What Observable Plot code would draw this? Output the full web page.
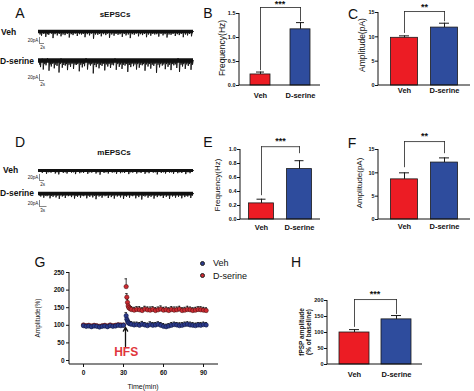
<!DOCTYPE html>
<html><head><meta charset="utf-8">
<script src="https://cdn.jsdelivr.net/npm/d3@7"></script>
<script src="https://cdn.jsdelivr.net/npm/@observablehq/plot@0.6"></script>
<style>
html,body{margin:0;padding:0;background:#fff;}
#fig{position:relative;width:474px;height:391px;overflow:hidden;font-family:'Liberation Sans',Arial,sans-serif;color:#111;background:#fff;}
.t{position:absolute;white-space:nowrap;line-height:1;}
.pl{position:absolute;}
</style></head><body><div id="fig"></div>
<script>
// ---------- data ----------
const cats = ["Veh", "D-serine"];
const barColors = ["#ec1c24", "#2e4c9d"];

// B: sEPSC frequency (Hz)
const sFreq = [0.23, 1.17];
const sFreqErr = [0.05, 0.14];
// C: sEPSC amplitude (pA)
const sAmp = [9.8, 11.9];
const sAmpErr = [0.4, 0.9];
// E: mEPSC frequency (Hz)
const mFreq = [0.23, 0.72];
const mFreqErr = [0.06, 0.12];
// F: mEPSC amplitude (pA)
const mAmp = [8.6, 12.2];
const mAmpErr = [1.4, 1.0];
// H: fPSP amplitude (% of baseline)
const fpsp = [100, 141];
const fpspErr = [9, 12];

// G: time course
const timeG = [0,2,4,6,8,10,12,14,16,18,20,22,24,26,28,30,
  32,32.5,33,33.5,34,35,36,38,40,42,44,46,48,50,52,54,56,58,60,62,64,66,68,70,72,74,76,78,80,82,84,86,88,90,92];
const vehG = [99,97,98,96,98,97,95,97,98,96,99,97,98,100,99,100,
  127,117,112,108,106,104,103,101,102,100,103,101,99,102,100,101,103,100,97,96,98,100,102,101,99,100,102,103,101,100,99,101,100,102,101];
const vehGErr = [3,3,3,3,3,3,3,3,3,3,3,3,3,3,3,3,
  9,8,7,7,7,7,7,8,7,8,8,7,7,8,8,7,7,8,8,7,7,8,7,7,8,8,7,7,8,8,7,7,8,7,7];
const dserG = [101,99,100,98,100,99,97,99,100,98,101,99,100,102,101,101,
  210,180,165,155,150,147,145,143,145,144,142,146,144,143,145,142,144,146,143,144,142,145,143,144,146,142,143,145,144,142,143,145,144,143,142];
const dserGErr = [3,3,3,3,3,3,3,3,3,3,3,3,3,3,3,3,
  22,10,9,9,8,8,8,8,8,9,8,8,8,9,8,8,8,9,8,8,8,8,9,8,8,8,8,9,8,8,8,8,9,8,8];
const hfsTime = 31.5;

// Representative traces (estimated event times in s and amplitudes in pA)
const sVehEvents = [[0.6,-10],[1.2,-14],[2.1,-8],[2.9,-18],[3.6,-9],[4.1,-11],[5.2,-7],[5.8,-22],[6.6,-9],[7.5,-13],[8.3,-8],[9.0,-16],[9.8,-10],[10.6,-12],[11.5,-8],[12.3,-20],[13.1,-9],[13.8,-12],[14.7,-7],[15.5,-15],[16.4,-9],[17.2,-10],[17.9,-8],[18.6,-19],[19.5,-9],[20.4,-13],[21.2,-7],[22.0,-24],[22.8,-10],[23.7,-11],[24.4,-8],[25.1,-16],[26.0,-9],[26.9,-12],[27.6,-7],[28.4,-21],[29.3,-10],[30.2,-14],[31.0,-8],[31.8,-11],[32.6,-9],[33.5,-18],[34.3,-8],[35.0,-13],[35.9,-10],[36.7,-22],[37.5,-9],[38.3,-11],[39.1,-7],[40.0,-16],[40.8,-9],[41.6,-12],[42.4,-8],[43.2,-19],[44.0,-10],[44.9,-14],[45.7,-8],[46.5,-10],[47.3,-9],[48.1,-17],[49.0,-8],[49.8,-13],[50.6,-9],[51.4,-20],[52.2,-10],[53.0,-11],[53.8,-8],[54.7,-15],[55.5,-9],[56.3,-12],[57.1,-8],[57.9,-19],[58.8,-10],[59.6,-13],[60.4,-8],[61.2,-16]];
const sDserEvents = [[0.5,-14],[0.8,-22],[1.5,6],[1.9,-30],[2.5,-12],[3.0,-16],[3.6,8],[4.2,-34],[4.7,-13],[5.1,-20],[5.7,-11],[6.3,-26],[6.9,-14],[7.4,-18],[8.2,-40],[8.7,-12],[9.0,7],[9.5,-24],[10.1,-15],[10.7,-17],[11.2,-12],[11.6,-32],[12.2,-14],[12.8,-21],[13.4,-11],[14.0,-28],[14.6,-13],[15.1,-15],[15.7,-12],[16.3,-36],[16.9,-14],[17.5,-23],[18.0,-11],[18.4,-19],[19.0,8],[19.6,-30],[20.2,-13],[20.8,-17],[21.3,-12],[21.9,-43],[22.5,-15],[23.1,-22],[23.7,-12],[24.2,-26],[24.8,-14],[25.4,-18],[25.9,-11],[26.5,-33],[27.1,-13],[27.7,-20],[28.2,-12],[28.8,-25],[29.4,-14],[30.0,-16],[30.6,7],[31.1,-31],[31.7,-12],[32.3,-21],[32.8,-13],[33.4,-28],[34.0,-14],[34.6,-17],[35.1,-12],[35.7,-38],[36.3,-15],[36.9,-22],[37.4,-11],[38.0,-19],[38.6,-13],[39.2,-30],[39.7,-12],[40.3,-24],[40.9,-14],[41.5,-16],[42.0,-12],[42.6,-34],[43.2,-13],[43.8,-20],[44.3,-12],[44.9,-27],[45.5,-14],[46.1,-18],[46.6,-11],[47.2,-41],[47.8,-14],[48.4,-23],[48.9,-12],[49.5,-17],[50.1,-13],[50.7,-29],[51.2,-12],[51.8,-21],[52.4,-14],[53.0,-32],[53.5,-12],[54.1,-16],[54.7,-13],[55.3,-25],[55.8,8],[56.4,-38],[57.0,-14],[57.6,-20],[58.1,-12],[58.7,-28],[59.3,-13],[59.9,-18],[60.4,-12],[61.0,-31],[61.6,-14]];
const mVehEvents = [[0.7,-5],[1.5,-8],[2.4,-5],[3.2,-11],[4.1,-6],[5.0,-7],[5.9,-5],[6.7,-10],[7.4,-6],[8.1,-13],[9.0,-5],[9.9,-8],[10.7,-6],[11.4,-10],[12.3,-5],[13.2,-7],[14.0,-6],[14.8,-12],[15.7,-5],[16.5,-9],[17.2,-6],[18.0,-8],[18.9,-5],[19.7,-11],[20.5,-6],[21.3,-7],[22.1,-5],[23.0,-10],[23.8,-6],[24.6,-14],[25.4,-5],[26.2,-8],[27.0,-6],[27.9,-10],[28.7,-5],[29.5,-7],[30.3,-6],[31.2,-11],[32.0,-5],[32.8,-9],[33.6,-6],[34.4,-8],[35.3,-5],[36.1,-12],[36.9,-6],[37.7,-7],[38.5,-5],[39.3,-10],[40.2,-6],[41.0,-8],[41.8,-5],[42.6,-11],[43.4,-6],[44.2,-9],[45.1,-5],[45.9,-7],[46.7,-6],[47.5,-13],[48.3,-5],[49.1,-8],[50.0,-6],[50.8,-10],[51.6,-5],[52.4,-7],[53.2,-6],[54.0,-11],[54.9,-5],[55.7,-9],[56.5,-6],[57.3,-8],[58.1,-5],[58.9,-12],[59.8,-6],[60.6,-9],[61.4,-5]];
const mDserEvents = [[0.5,-7],[0.9,-10],[1.5,-6],[2.1,-14],[2.8,-7],[3.4,-9],[4.0,-6],[4.6,-16],[5.2,-8],[5.8,-11],[6.4,-6],[7.0,-13],[7.7,-7],[8.3,-18],[8.9,-6],[9.5,-10],[10.1,-7],[10.7,-15],[11.3,-6],[11.9,-9],[12.6,-7],[13.2,-12],[13.8,-6],[14.4,-17],[15.0,-8],[15.6,-11],[16.2,-6],[16.8,-14],[17.5,-7],[18.1,-9],[18.7,-6],[19.3,-16],[19.9,-7],[20.5,-11],[21.1,-6],[21.7,-13],[22.4,-8],[23.0,-19],[23.6,-6],[24.2,-10],[24.8,-7],[25.4,-14],[26.0,-6],[26.6,-9],[27.3,-7],[27.9,-15],[28.5,-6],[29.1,-12],[29.7,-7],[30.3,-17],[30.9,-6],[31.5,-10],[32.2,-7],[32.8,-13],[33.4,-6],[34.0,-18],[34.6,-8],[35.2,-11],[35.8,-6],[36.4,-14],[37.1,-7],[37.7,-9],[38.3,-6],[38.9,-16],[39.5,-7],[40.1,-12],[40.7,-6],[41.3,-20],[42.0,-8],[42.6,-10],[43.2,-6],[43.8,-14],[44.4,-7],[45.0,-11],[45.6,-6],[46.2,-17],[46.9,-7],[47.5,-12],[48.1,-6],[48.7,-9],[49.3,-7],[49.9,-15],[50.5,-6],[51.1,-11],[51.8,-7],[52.4,-18],[53.0,-6],[53.6,-10],[54.2,-7],[54.8,-14],[55.4,-6],[56.0,-11],[56.7,-7],[57.3,-16],[57.9,-6],[58.5,-12],[59.1,-7],[59.7,-10],[60.3,-6],[60.9,-15],[61.5,-7]];

// ---------- helpers ----------
const fig = document.getElementById("fig");
const FONT = "'Liberation Sans', Arial, sans-serif";
const plotStyle = {fontFamily: FONT, background: "transparent", overflow: "visible", color: "#111"};

function place(node, left, top) {
  node.classList.add("pl");
  node.style.left = left + "px";
  node.style.top = top + "px";
  fig.appendChild(node);
}
function txt(s, x, y, {size = 8, weight = "normal", anchor = "middle", rotate = 0, color = "#111", html = false, align = "center"} = {}) {
  const d = document.createElement("div");
  d.className = "t";
  if (html) d.innerHTML = s; else d.textContent = s;
  d.style.left = x + "px";
  d.style.top = y + "px";
  d.style.fontSize = size + "px";
  d.style.fontWeight = weight;
  d.style.color = color;
  d.style.textAlign = align;
  const tx = anchor === "middle" ? "-50%" : anchor === "end" ? "-100%" : "0";
  d.style.transform = `translate(${tx},-50%)` + (rotate ? ` rotate(${rotate}deg)` : "");
  fig.appendChild(d);
  return d;
}
const axisLines = (index, scales, values, dims) => {
  const {width, height, marginLeft, marginRight, marginTop, marginBottom} = dims;
  const g = d3.create("svg:g").attr("stroke", "#111").attr("stroke-width", 1).attr("fill", "none");
  g.append("line").attr("x1", marginLeft).attr("x2", marginLeft).attr("y1", marginTop).attr("y2", height - marginBottom);
  g.append("line").attr("x1", marginLeft).attr("x2", width - marginRight).attr("y1", height - marginBottom).attr("y2", height - marginBottom);
  return g.node();
};

function barPanel(c) {
  const data = cats.map((k, i) => ({c: k, v: c.values[i], e: c.errs[i], color: barColors[i]}));
  const legs = [{c: cats[0], y1: c.br[0], y2: c.br[1]}, {c: cats[1], y1: c.br[2], y2: c.br[1]}];
  const p = Plot.plot({
    width: c.width, height: c.height,
    marginLeft: c.ml, marginRight: c.mr, marginTop: c.mt, marginBottom: c.mb,
    style: plotStyle,
    x: {domain: cats, type: "band", paddingInner: 0, paddingOuter: c.po, axis: null},
    y: {domain: c.y, axis: null},
    marks: [
      Plot.barY(data, {x: "c", y: "v", fill: "color", stroke: "#1a1a1a", strokeWidth: 0.8, insetLeft: c.inset, insetRight: c.inset}),
      Plot.ruleX(data, {x: "c", y1: "v", y2: d => d.v + d.e, stroke: "#1a1a1a", strokeWidth: 1}),
      Plot.tickY(data, {x: "c", y: d => d.v + d.e, stroke: "#1a1a1a", strokeWidth: 1, insetLeft: c.cap, insetRight: c.cap}),
      Plot.ruleX(legs, {x: "c", y1: "y1", y2: "y2", stroke: "#222", strokeWidth: 0.8}),
      Plot.line(legs, {x: "c", y: "y2", stroke: "#222", strokeWidth: 0.8}),
      Plot.text([c.stars], {y: c.br[3], text: d => d, fontSize: 9, fontWeight: "bold", fill: "#111"}),
      Plot.axisY({ticks: c.ticks, tickFormat: d3.format(c.fmt), tickSize: 3, tickPadding: 1, fontSize: 5.5, fontWeight: "bold", label: null}),
      Plot.axisX({tickSize: 0, tickPadding: c.xpad, fontSize: 7.5, fontWeight: "bold", label: null}),
      axisLines
    ]
  });
  place(p, c.left, c.top);
}

function tracePanel(events, c) {
  const dur = 62;
  const pts = [{t: 0, a: 0}];
  for (const [t, a] of events) pts.push({t: t - 0.12, a: 0}, {t, a}, {t: t + 0.3, a: 0});
  pts.push({t: dur, a: 0});
  const sb = c.sb; // scale bar
  const p = Plot.plot({
    width: 200, height: 35, margin: 0,
    style: plotStyle,
    x: {domain: [-15.2, 64.8], axis: null},
    y: {domain: [-93.33, 23.33], axis: null},
    marks: [
      Plot.ruleY([0], {x1: 0, x2: dur, stroke: "#111", strokeWidth: c.band}),
      Plot.line(pts, {x: "t", y: "a", stroke: "#111", strokeWidth: 0.9}),
      Plot.ruleX([sb], {x: d => d.x, y1: d => d.top, y2: d => d.top - 20, stroke: "#333", strokeWidth: 0.6}),
      Plot.ruleY([sb], {y: d => d.top - 20, x1: d => d.x, x2: d => d.x + d.len, stroke: "#333", strokeWidth: 0.6}),
      Plot.text([sb], {x: d => d.x - 0.5, y: d => d.top - 10, text: () => "20pA", textAnchor: "end", fontSize: 4.5, fill: "#222"}),
      Plot.text([sb], {x: d => d.x + 0.3, y: d => d.top - 20 - 12, text: d => d.len + "s", textAnchor: "start", fontSize: 4.5, fill: "#222"})
    ]
  });
  place(p, 0, c.top);
}

// ---------- Panel A ----------
txt("A", 20, 13, {size: 14});
txt("sEPSCs", 115, 15, {size: 8, weight: "bold"});
txt("Veh", 1, 32, {size: 8.5, weight: "bold", anchor: "start"});
txt("D-serine", 0, 61, {size: 8.5, weight: "bold", anchor: "start"});
tracePanel(sVehEvents, {top: 24, band: 3.6, sb: {x: 0.4, top: -20, len: 2}});
tracePanel(sDserEvents, {top: 53, band: 4.6, sb: {x: 0.4, top: -46.7, len: 2}});

// ---------- Panel D ----------
txt("D", 20, 142, {size: 14});
txt("mEPSCs", 114, 153, {size: 8, weight: "bold"});
txt("Veh", 3, 170, {size: 8.5, weight: "bold", anchor: "start"});
txt("D-serine", 0, 193, {size: 8.5, weight: "bold", anchor: "start"});
tracePanel(mVehEvents, {top: 163, band: 3.2, sb: {x: 0.4, top: -13.3, len: 2}});
tracePanel(mDserEvents, {top: 186, band: 3.4, sb: {x: 0.4, top: -23.3, len: 3}});

// ---------- Bar panels ----------
txt("B", 208, 13, {size: 14});
txt("Frequency(Hz)", 222, 48, {size: 8.5, rotate: -90});
barPanel({left: 225, top: 0, width: 100, height: 100, ml: 14, mr: 5, mt: 13, mb: 15,
  y: [0, 1.5], ticks: [0, 0.5, 1, 1.5], fmt: ".1f", values: sFreq, errs: sFreqErr,
  po: 0, inset: 10, cap: 16, xpad: 7, br: [0.31, 1.625, 1.33, 1.69], stars: "***"});

txt("C", 353, 14, {size: 14});
txt("Amplitude(pA)", 362, 45, {size: 8.5, rotate: -90});
barPanel({left: 363, top: 0, width: 111, height: 100, ml: 15, mr: 4, mt: 12, mb: 15,
  y: [0, 15], ticks: [0, 5, 10, 15], fmt: "d", values: sAmp, errs: sAmpErr,
  po: 0.15, inset: 6.5, cap: 15, xpad: 2, br: [10.7, 15.2, 13.1, 16.2], stars: "**"});

txt("E", 208, 142, {size: 14});
txt("Frequency(Hz)", 218, 185, {size: 8, rotate: -90});
barPanel({left: 225, top: 130, width: 100, height: 105, ml: 15, mr: 5, mt: 19, mb: 16,
  y: [0, 1], ticks: [0, 0.2, 0.4, 0.6, 0.8, 1], fmt: ".1f", values: mFreq, errs: mFreqErr,
  po: 0.03, inset: 6.5, cap: 14.5, xpad: 5, br: [0.34, 1.04, 0.94, 1.12], stars: "***"});

txt("F", 352, 143, {size: 14});
txt("Amplitude(pA)", 360, 183, {size: 8, rotate: -90});
barPanel({left: 363, top: 130, width: 111, height: 105, ml: 15, mr: 4, mt: 19, mb: 16,
  y: [0, 15], ticks: [0, 5, 10, 15], fmt: "d", values: mAmp, errs: mAmpErr,
  po: 0.15, inset: 6.5, cap: 15, xpad: 4, br: [11.1, 16.7, 14.1, 17.9], stars: "**"});

txt("H", 296, 262, {size: 14});
txt("fPSP amplitude<br>(% of baseline)", 305, 332, {size: 6.5, weight: "bold", rotate: -90, html: true});
barPanel({left: 305, top: 285, width: 125, height: 100, ml: 22, mr: 8, mt: 15, mb: 21,
  y: [0, 200], ticks: [0, 50, 100, 150, 200], fmt: "d", values: fpsp, errs: fpspErr,
  po: 0.13, inset: 6, cap: 16, xpad: 7, br: [116, 203, 156, 221], stars: "***"});

// ---------- Panel G ----------
txt("G", 40, 262, {size: 14});
txt("Amplitude(%)", 38, 318, {size: 6.5, rotate: -90});
txt("Time(min)", 143, 386, {size: 7});
const vehData = timeG.map((t, i) => ({t, v: vehG[i], e: vehGErr[i]}));
const dserData = timeG.map((t, i) => ({t, v: dserG[i], e: dserGErr[i]}));
const errMarks = (data) => [
  Plot.ruleX(data, {x: "t", y1: "v", y2: d => d.v + d.e, stroke: "#111", strokeWidth: 0.8}),
  Plot.ruleY(data, {y: d => d.v + d.e, x1: d => d.t - 0.9, x2: d => d.t + 0.9, stroke: "#111", strokeWidth: 0.8})
];
const hfs = [{t: hfsTime, label: "HFS"}];
const gPlot = Plot.plot({
  width: 200, height: 136, marginLeft: 39, marginRight: 12, marginTop: 17, marginBottom: 27,
  style: plotStyle,
  x: {domain: [-10.5, 101.25], axis: null},
  y: {domain: [-11.36, 250], axis: null},
  marks: [
    ...errMarks(dserData),
    Plot.dot(dserData, {x: "t", y: "v", r: 2.2, fill: "#cc2a31", stroke: "#3b0d0d", strokeWidth: 0.5}),
    ...errMarks(vehData),
    Plot.dot(vehData, {x: "t", y: "v", r: 2.2, fill: "#2b3a8c", stroke: "#0d1233", strokeWidth: 0.5}),
    Plot.arrow(hfs, {x1: "t", x2: "t", y1: 40, y2: 94, stroke: "#111", strokeWidth: 1.3, headLength: 5}),
    Plot.text(hfs, {x: d => d.t + 0.5, y: 23, text: "label", fill: "#e0353c", fontSize: 12, fontWeight: "bold"}),
    Plot.axisY({ticks: [0, 50, 100, 150, 200, 250], tickSize: 3, tickPadding: 2, fontSize: 6.5, fontWeight: "bold", label: null}),
    Plot.axisX({ticks: [0, 30, 60, 90], tickSize: 3, tickPadding: 3, fontSize: 6.5, fontWeight: "bold", label: null}),
    axisLines
  ]
});
place(gPlot, 30, 255);

// legend for G
function legendDot(x, y, color) {
  const s = document.createElement("div");
  s.style.cssText = `position:absolute;left:${x - 2.5}px;top:${y - 2.5}px;width:5px;height:5px;border-radius:50%;background:${color};border:0.5px solid #222;box-sizing:border-box;`;
  fig.appendChild(s);
}
legendDot(202, 263, "#2b3a8c");
txt("Veh", 213, 263, {size: 9, anchor: "start"});
legendDot(202, 275, "#cc2a31");
txt("D-serine", 213, 276, {size: 9, anchor: "start"});
</script></body></html>
